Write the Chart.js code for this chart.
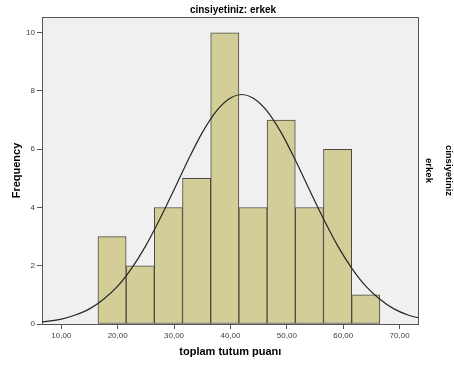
<!DOCTYPE html>
<html>
<head>
<meta charset="utf-8">
<script src="https://cdn.jsdelivr.net/npm/chart.js@4/dist/chart.umd.min.js"></script>
<style>
  html, body { margin: 0; padding: 0; background: #ffffff; }
  #wrap { position: relative; width: 454px; height: 365px; }
</style>
</head>
<body>
<div id="wrap"><canvas id="c" width="454" height="365"></canvas></div>
<script>
// ---- data ----
const chartTitle = 'cinsiyetiniz: erkek';
const panelLabel = ['cinsiyetiniz', 'erkek'];
const xAxisTitle = 'toplam tutum puanı';
const yAxisTitle = 'Frequency';

const binCenters = [19, 24, 29, 34, 39, 44, 49, 54, 59, 64];
const frequencies = [3, 2, 4, 5, 10, 4, 7, 4, 6, 1];

const curveX = [6.6, 10, 12.5, 15, 17.5, 20, 22.5, 25, 27.5, 30, 32.5, 35, 37.5, 40, 42, 44, 46.5, 49, 51.5, 54, 56.5, 59, 61.5, 64, 66.5, 69, 71.5, 73.4];
const curveY = [0.07, 0.17, 0.31, 0.52, 0.85, 1.30, 1.92, 2.69, 3.61, 4.61, 5.63, 6.57, 7.31, 7.76, 7.88, 7.76, 7.31, 6.57, 5.63, 4.61, 3.61, 2.69, 1.92, 1.30, 0.85, 0.52, 0.31, 0.21];

const xTickValues = [10, 20, 30, 40, 50, 60, 70];
const xTickLabels = ['10,00', '20,00', '30,00', '40,00', '50,00', '60,00', '70,00'];
const yTickValues = [0, 2, 4, 6, 8, 10];
const yTickLabels = ['0', '2', '4', '6', '8', '10'];

const xMin = 6.58, xMax = 73.37;
const yMin = 0, yMax = 10.54;

// ---- chart ----
const FONT = 'Arial, "Liberation Sans", sans-serif';
const AXIS_COLOR = '#555555';

const plotBg = {
  id: 'plotBg',
  beforeDraw(chart) {
    const {ctx, chartArea: a} = chart;
    ctx.save();
    ctx.fillStyle = '#ffffff';
    ctx.fillRect(0, 0, chart.width, chart.height);
    ctx.fillStyle = '#f0f0f0';
    ctx.fillRect(a.left, a.top, a.right - a.left, a.bottom - a.top);
    ctx.restore();
  }
};

new Chart(document.getElementById('c'), {
  type: 'bar',
  data: {
    datasets: [
      {
        type: 'line',
        data: curveX.map((x, i) => ({x, y: curveY[i]})),
        borderColor: '#262626',
        borderWidth: 1.2,
        pointRadius: 0,
        fill: false,
        cubicInterpolationMode: 'monotone',
        order: 0,
        xAxisID: 'x',
        yAxisID: 'y'
      },
      {
        type: 'bar',
        data: binCenters.map((x, i) => ({x, y: frequencies[i]})),
        backgroundColor: '#d3ce98',
        borderColor: '#4a4a42',
        borderWidth: 1,
        borderSkipped: false,
        barPercentage: 1,
        categoryPercentage: 1,
        order: 1,
        xAxisID: 'x',
        yAxisID: 'y'
      }
    ]
  },
  options: {
    responsive: false,
    animation: false,
    devicePixelRatio: 1,
    layout: { padding: { left: 12, right: 0, top: 0, bottom: 0 } },
    plugins: {
      legend: { display: false },
      tooltip: { enabled: false },
      title: {
        display: true,
        text: chartTitle,
        color: '#000000',
        font: { family: FONT, size: 10, weight: 'bold', lineHeight: 1.2 },
        padding: { top: 4, bottom: 1 }
      }
    },
    scales: {
      x: {
        type: 'linear',
        position: 'bottom',
        min: xMin,
        max: xMax,
        offset: false,
        grid: { display: true, offset: false, drawOnChartArea: false, drawTicks: true, tickLength: 5, color: AXIS_COLOR },
        border: { display: true, color: AXIS_COLOR, width: 1 },
        afterBuildTicks: s => { s.ticks = xTickValues.map(v => ({value: v})); },
        afterFit: s => { s.height = 41; },
        ticks: {
          autoSkip: false, maxRotation: 0, minRotation: 0, padding: 2,
          color: '#404040',
          font: { family: FONT, size: 8 },
          callback: (v, i) => xTickLabels[i]
        },
        title: {
          display: true, text: xAxisTitle, color: '#000000',
          font: { family: FONT, size: 11, weight: 'bold', lineHeight: 1.2 },
          padding: { top: 0, bottom: 6.4 }
        }
      },
      x2: {
        type: 'linear',
        position: 'top',
        min: xMin,
        max: xMax,
        display: true,
        grid: { display: false },
        border: { display: true, color: AXIS_COLOR, width: 1 },
        ticks: { display: false },
        afterFit: s => { s.height = 0; }
      },
      y: {
        type: 'linear',
        position: 'left',
        min: yMin,
        max: yMax,
        grid: { display: true, drawOnChartArea: false, drawTicks: true, tickLength: 5, color: AXIS_COLOR },
        border: { display: true, color: AXIS_COLOR, width: 1 },
        afterBuildTicks: s => { s.ticks = yTickValues.map(v => ({value: v})); },
        afterFit: s => { s.width = 30; },
        ticks: {
          padding: 2, color: '#404040',
          font: { family: FONT, size: 8 },
          callback: (v, i) => yTickLabels[i]
        },
        title: {
          display: true, text: yAxisTitle, color: '#000000',
          font: { family: FONT, size: 11, weight: 'bold', lineHeight: 1.2 },
          padding: { top: -1.6, bottom: 0 }
        }
      },
      y2: {
        type: 'linear',
        position: 'right',
        min: yMin,
        max: yMax,
        display: true,
        grid: { display: false },
        border: { display: true, color: AXIS_COLOR, width: 1 },
        ticks: { display: false },
        afterFit: s => { s.width = 35.4; },
        title: {
          display: true, text: panelLabel, color: '#000000',
          font: { family: FONT, size: 9.5, weight: 'bold', lineHeight: '20.5px' },
          padding: { top: -5.25, bottom: 0 }
        }
      }
    }
  },
  plugins: [plotBg]
});
</script>
</body>
</html>
